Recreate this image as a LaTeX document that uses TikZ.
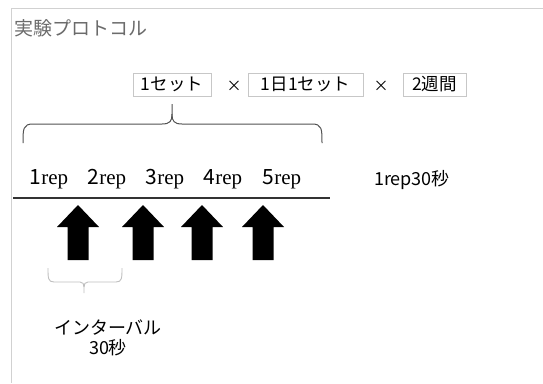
\documentclass[tikz,border=0pt]{standalone}
\usepackage{fontspec}
\setmainfont{Noto Sans CJK JP}
\newfontfamily\repserif{Liberation Serif}
\begin{document}
\begin{tikzpicture}[x=1pt,y=-1pt,
  framecol/.style={draw=black!18, line width=0.8pt},
  title/.style={text=black!58, font=\fontsize{19}{19}\selectfont, anchor=west, inner sep=0},
  boxed/.style={draw=black!22, line width=0.7pt, font=\fontsize{17.5}{17.5}\selectfont, minimum height=23pt, inner sep=0},
  times/.style={font=\fontsize{15}{15}\selectfont, inner sep=0},
  replabel/.style={font=\fontsize{21}{21}\selectfont, inner sep=0},
  plain/.style={font=\fontsize{18}{18}\selectfont, inner sep=0},
  bigbrace/.style={draw=black!68, line width=1pt},
  smallbrace/.style={draw=black!25, line width=0.9pt},
  uparrow/.style={fill=black}]
\useasboundingbox (0,0) rectangle (543,383);
\fill[white] (0,0) rectangle (543,383);
% frame
\coordinate (fTL) at (11,8);
\coordinate (fTR) at (543,8);
\coordinate (fBL) at (11,383);
\draw[framecol] (fTR) -- (fTL) -- (fBL);
% title
\node[title] (title) at (14,28) {実験プロトコル};
% boxes
\node[boxed, minimum width=78pt] (b1) at (172,84.5) {1セット};
\node[times] (x1) at (234,86) {×};
\node[boxed, minimum width=115pt] (b2) at (305.5,84.5) {1日1セット};
\node[times] (x2) at (381,86) {×};
\node[boxed, minimum width=63pt] (b3) at (434.5,84.5) {2週間};
% big brace
\coordinate (tip) at (172,104);
\coordinate (bl) at (23,143);
\coordinate (br) at (322,143);
\draw[bigbrace] (bl) .. controls (23,129) and (23,124) .. (33,124) -- (162,124)
  .. controls (170,124) and (172,121) .. (172,114) -- (tip);
\draw[bigbrace] (br) .. controls (322,129) and (322,124) .. (312,124) -- (182,124)
  .. controls (174,124) and (172,121) .. (172,114);
% rep labels
\node[replabel] (r1) at (49,179) {1{\repserif rep}};
\node[replabel] (r2) at (107,179) {2{\repserif rep}};
\node[replabel] (r3) at (165,179) {3{\repserif rep}};
\node[replabel] (r4) at (223,179) {4{\repserif rep}};
\node[replabel] (r5) at (282,179) {5{\repserif rep}};
\node[plain] (dur) at (412,180) {1rep30秒};
% baseline
\coordinate (lineL) at (13,198);
\coordinate (lineR) at (330,198);
\draw[black!80, line width=1.2pt] (lineL) -- (lineR);
% arrows
\foreach \cx in {78,143,202,263}{
  \fill[uparrow] (\cx,205) -- (\cx+21,227) -- (\cx+10.5,227) -- (\cx+10.5,260)
    -- (\cx-10.5,260) -- (\cx-10.5,227) -- (\cx-21,227) -- cycle;
}
% interval brace
\coordinate (il) at (48,268);
\coordinate (ir) at (122,268);
\coordinate (itip) at (84,293);
\draw[smallbrace] (il) .. controls (48,278) and (48,282) .. (54,282) -- (80,282)
  .. controls (83,282) and (84,284) .. (84,287) -- (itip);
\draw[smallbrace] (ir) .. controls (122,278) and (122,282) .. (116,282) -- (88,282)
  .. controls (85,282) and (84,284) .. (84,287);
\node[plain] (intv) at (108,328) {インターバル};
\node[plain] (intv2) at (108,348) {30秒};
\end{tikzpicture}
\end{document}
